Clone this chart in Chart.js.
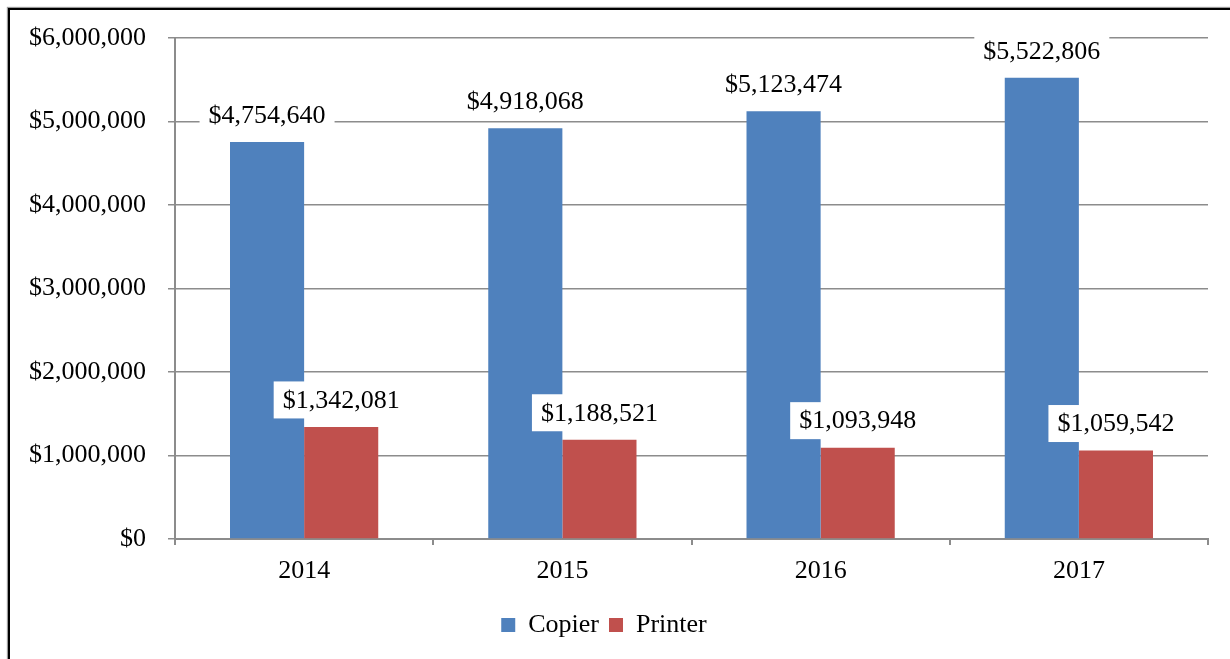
<!DOCTYPE html>
<html>
<head>
<meta charset="utf-8">
<script src="https://cdn.jsdelivr.net/npm/chart.js@4.4.1/dist/chart.umd.min.js"></script>
<style>
    body { margin: 0; background: #fff; overflow: hidden; font-family: "Liberation Serif", serif; }
    #frame {
        position: absolute; left: 8px; top: 8px; width: 1400px; height: 800px;
        border-left: 2px solid #000; border-top: 2px solid #000;
        box-shadow: -1px -1px 1px #999;
        pointer-events: none;
    }
    #chart { position: absolute; left: 0; top: 0; }
</style>
</head>
<body>
<canvas id="chart" width="1230" height="659"></canvas>
<div id="frame"></div>
<script>
const years = ["2014", "2015", "2016", "2017"];
const copierSales = [4754640, 4918068, 5123474, 5522806];
const printerSales = [1342081, 1188521, 1093948, 1059542];

const serif = "Liberation Serif";
const axisGray = "#8c8c8c";

function money(v) {
    return "$" + Number(v).toLocaleString("en-US");
}

// boxed value labels above each bar, white background like the original
const valueLabels = {
    id: "valueLabels",
    afterDatasetsDraw(chart) {
        const ctx = chart.ctx;
        ctx.save();
        ctx.font = "26px 'Liberation Serif'";
        ctx.textAlign = "center";
        ctx.textBaseline = "middle";
        chart.data.datasets.forEach((ds, i) => {
            chart.getDatasetMeta(i).data.forEach((bar, j) => {
                let text = money(ds.data[j]);
                let w = ctx.measureText(text).width + 18;
                let h = 37;
                let cy = bar.y - 27;
                ctx.fillStyle = "#fff";
                ctx.fillRect(bar.x - w / 2, cy - h / 2, w, h);
                ctx.fillStyle = "#000";
                ctx.fillText(text, bar.x, cy + 1);
            });
        });
        ctx.restore();
    }
};

function drawChart() {
    new Chart(document.getElementById("chart"), {
        type: "bar",
        data: {
            labels: years,
            datasets: [{
                label: "Copier",
                data: copierSales,
                backgroundColor: "#4f81bd"
            }, {
                label: "Printer",
                data: printerSales,
                backgroundColor: "#c0504d"
            }]
        },
        options: {
            responsive: false,
            animation: false,
            datasets: {
                bar: { categoryPercentage: 0.574, barPercentage: 1.0 }
            },
            layout: {
                padding: { left: 0, right: 22, top: 38, bottom: 11 }
            },
            scales: {
                x: {
                    afterFit: (scale) => { scale.height = 63; },
                    grid: {
                        drawOnChartArea: false,
                        drawTicks: true,
                        tickLength: 6,
                        color: axisGray,
                        lineWidth: 2
                    },
                    border: { color: axisGray, width: 2 },
                    ticks: {
                        color: "#000",
                        padding: 11,
                        font: { family: serif, size: 26 }
                    }
                },
                y: {
                    min: 0,
                    max: 6000000,
                    afterFit: (scale) => { scale.width = 175; },
                    grid: {
                        color: axisGray,
                        lineWidth: 1.5,
                        tickLength: 7
                    },
                    border: { color: axisGray, width: 2 },
                    ticks: {
                        stepSize: 1000000,
                        color: "#000",
                        padding: 22,
                        font: { family: serif, size: 26 },
                        callback: (v) => money(v)
                    }
                }
            },
            plugins: {
                legend: {
                    position: "bottom",
                    labels: {
                        color: "#000",
                        boxWidth: 14,
                        boxHeight: 14,
                        padding: 10,
                        font: { family: serif, size: 26 }
                    }
                },
                tooltip: { enabled: false }
            }
        },
        plugins: [valueLabels]
    });
}

document.fonts.load("26px 'Liberation Serif'").then(drawChart, drawChart);
</script>
</body>
</html>
